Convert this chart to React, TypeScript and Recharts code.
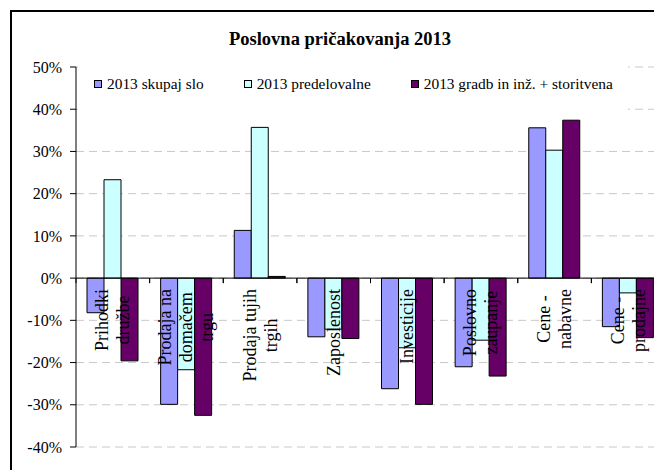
import React from 'react';
import { BarChart, Bar, XAxis, YAxis, CartesianGrid, ReferenceLine, Legend } from 'recharts';

// ---- data ----
const categories = [
  'Prihodki\ndružbe',
  'Prodaja na\ndomačem\ntrgu',
  'Prodaja tujih\ntrgih',
  'Zaposlenost',
  'Investicije',
  'Poslovno\nzaupanje',
  'Cene -\nnabavne',
  'Cene -\nprodajne',
];
const skupajSlo = [-8.2, -29.9, 11.3, -13.9, -26.2, -21.0, 35.6, -11.5];
const predelovalne = [23.3, -21.7, 35.7, -12.1, -16.5, -14.7, 30.3, -3.5];
const gradbStoritvena = [-19.6, -32.5, 0.4, -14.3, -29.9, -23.2, 37.4, -14.1];
const seriesNames = ['2013 skupaj slo', '2013 predelovalne', '2013 gradb in inž. + storitvena'];
const yTicks = [-40, -30, -20, -10, 0, 10, 20, 30, 40, 50];
const title = 'Poslovna pričakovanja 2013';

// ---- styling / layout ----
const COLORS = ['#9999FF', '#CCFFFF', '#660066'];
const FONT = '"Liberation Serif", "Times New Roman", serif';
const CHART_W = 720;
const CHART_H = 520;
const MARGIN = { top: 67, right: 55, left: 16, bottom: 43 };
const Y_AXIS_W = 60;
const X_AXIS_H = 30;
const PLOT_LEFT = MARGIN.left + Y_AXIS_W;
const PLOT_W = CHART_W - PLOT_LEFT - MARGIN.right;
const PLOT_H = CHART_H - MARGIN.top - MARGIN.bottom - X_AXIS_H;
const Y_MIN = yTicks[0];
const Y_MAX = yTicks[yTicks.length - 1];
const ZERO_Y = MARGIN.top + (PLOT_H * Y_MAX) / (Y_MAX - Y_MIN);
const BAND = PLOT_W / categories.length;
const LABEL_SIZE = 18;
const LINE_GAP = 21;
const LABEL_TOP_GAP = 11;

const data = categories.map((name, i) => ({
  name,
  s0: skupajSlo[i],
  s1: predelovalne[i],
  s2: gradbStoritvena[i],
}));

let measureCtx: CanvasRenderingContext2D | null = null;
function measure(s: string, font: string): number {
  if (!measureCtx) measureCtx = document.createElement('canvas').getContext('2d');
  if (!measureCtx) return s.length * 8;
  measureCtx.font = font;
  return measureCtx.measureText(s).width;
}

const CategoryTick = (props: any) => {
  const { x, payload } = props;
  const lines = String(payload.value).split('\n');
  const font = `${LABEL_SIZE}px "Liberation Serif"`;
  const maxW = Math.max(...lines.map((l) => measure(l, font)));
  const cy = ZERO_Y + LABEL_TOP_GAP + maxW / 2;
  const n = lines.length;
  return (
    <g>
      <line x1={x - BAND / 2} x2={x - BAND / 2} y1={ZERO_Y} y2={ZERO_Y + 5} stroke="#000" strokeWidth={1} />
      <line x1={x + BAND / 2} x2={x + BAND / 2} y1={ZERO_Y} y2={ZERO_Y + 5} stroke="#000" strokeWidth={1} />
      {lines.map((l, i) => {
        const lx = x + (i - (n - 1) / 2) * LINE_GAP;
        return (
          <text
            key={i}
            transform={`translate(${lx},${cy}) rotate(-90)`}
            textAnchor="middle"
            dominantBaseline="central"
            fontFamily={FONT}
            fontSize={LABEL_SIZE}
            fill="#000"
          >
            {l}
          </text>
        );
      })}
    </g>
  );
};

const renderLegend = () => (
  <div
    style={{
      display: 'flex',
      alignItems: 'center',
      fontFamily: FONT,
      fontSize: 15.4,
      color: '#000',
      paddingLeft: 16,
      paddingTop: 15,
      whiteSpace: 'nowrap',
    }}
  >
    {seriesNames.map((n, i) => (
      <div key={n} style={{ display: 'flex', alignItems: 'center', marginRight: 40 }}>
        <span
          style={{
            display: 'inline-block',
            width: 8,
            height: 8,
            boxSizing: 'border-box',
            border: '1px solid #000',
            background: COLORS[i],
            marginRight: 5,
          }}
        />
        <span>{n}</span>
      </div>
    ))}
  </div>
);

export default function App() {
  return (
    <div
      style={{
        position: 'fixed',
        left: 0,
        top: 0,
        width: 654,
        height: 470,
        overflow: 'hidden',
        background: '#fff',
      }}
    >
      <div style={{ position: 'absolute', left: 0, top: 0 }}>
        <BarChart
          width={CHART_W}
          height={CHART_H}
          data={data}
          margin={MARGIN}
          barSize={17}
          barGap={0}
        >
          <CartesianGrid vertical={false} stroke="#C8C8C8" strokeDasharray="8 5" />
          <YAxis
            width={Y_AXIS_W}
            domain={[Y_MIN, Y_MAX]}
            ticks={yTicks}
            interval={0}
            tickFormatter={(v: number) => `${v}%`}
            axisLine={{ stroke: '#000' }}
            tickLine={{ stroke: '#000' }}
            tickSize={6}
            tickMargin={8}
            tick={{ fontFamily: FONT, fontSize: 16, fill: '#000' }}
          />
          <Bar dataKey="s0" name={seriesNames[0]} fill={COLORS[0]} stroke="#000" strokeWidth={1} isAnimationActive={false} />
          <Bar dataKey="s1" name={seriesNames[1]} fill={COLORS[1]} stroke="#000" strokeWidth={1} isAnimationActive={false} />
          <Bar dataKey="s2" name={seriesNames[2]} fill={COLORS[2]} stroke="#000" strokeWidth={1} isAnimationActive={false} />
          <ReferenceLine y={0} stroke="#000" strokeWidth={1} />
          <XAxis
            dataKey="name"
            height={X_AXIS_H}
            axisLine={false}
            tickLine={false}
            interval={0}
            tick={<CategoryTick />}
          />
          <Legend
            layout="horizontal"
            align="center"
            verticalAlign="middle"
            content={renderLegend}
            wrapperStyle={{
              left: 78,
              top: 60,
              width: 550,
              height: 55,
              background: '#fff',
            }}
          />
        </BarChart>
      </div>
      <div
        style={{
          position: 'absolute',
          left: 10,
          top: 10,
          width: 700,
          height: 500,
          boxSizing: 'border-box',
          border: '2px solid #000',
          pointerEvents: 'none',
        }}
      />
      <div
        style={{
          position: 'absolute',
          left: 190,
          top: 29,
          width: 300,
          textAlign: 'center',
          fontFamily: FONT,
          fontWeight: 'bold',
          fontSize: 18.5,
          lineHeight: '20px',
          color: '#000',
          whiteSpace: 'nowrap',
        }}
      >
        {title}
      </div>
    </div>
  );
}
